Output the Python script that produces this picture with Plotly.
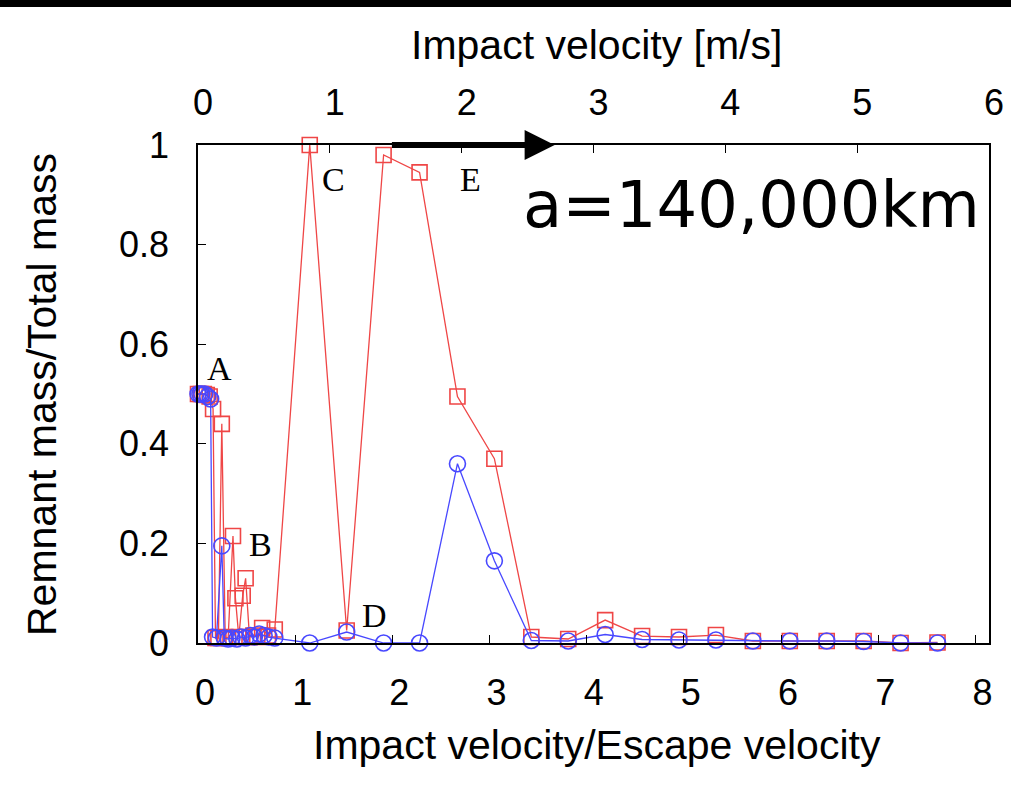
import plotly.graph_objects as go

# ---- data ----
red_x = [0.00, 0.03, 0.06, 0.09, 0.12, 0.155, 0.18, 0.21, 0.245, 0.28, 0.31, 0.36, 0.385,
         0.42, 0.46, 0.49, 0.53, 0.57, 0.61, 0.66, 0.72, 0.79,
         1.15, 1.53, 1.91, 2.28, 2.67, 3.05, 3.43, 3.81, 4.19, 4.57, 4.95, 5.33,
         5.71, 6.09, 6.47, 6.85, 7.23, 7.61]
red_y = [0.50, 0.50, 0.50, 0.498, 0.495, 0.47, 0.01, 0.01, 0.44, 0.012, 0.01, 0.215, 0.09,
         0.012, 0.095, 0.13, 0.012, 0.015, 0.012, 0.03, 0.015, 0.027,
         1.00, 0.025, 0.98, 0.945, 0.495, 0.37, 0.012, 0.008, 0.046, 0.014, 0.012, 0.016,
         0.004, 0.004, 0.004, 0.004, 0.0, 0.001]

blue_x = [0.00, 0.02, 0.04, 0.07, 0.10, 0.13, 0.15, 0.19, 0.245, 0.27, 0.31, 0.35, 0.40,
          0.44, 0.49, 0.54, 0.58, 0.63, 0.68, 0.73, 0.79,
          1.15, 1.53, 1.91, 2.28, 2.67, 3.05, 3.43, 3.81, 4.19, 4.57, 4.95, 5.33,
          5.71, 6.09, 6.47, 6.85, 7.23, 7.61]
blue_y = [0.50, 0.50, 0.50, 0.50, 0.495, 0.49, 0.012, 0.01, 0.195, 0.01, 0.008, 0.01, 0.008,
          0.012, 0.01, 0.015, 0.012, 0.018, 0.015, 0.012, 0.01,
          0.0, 0.022, 0.0, 0.0, 0.36, 0.165, 0.005, 0.004, 0.017, 0.007, 0.006, 0.006,
          0.004, 0.004, 0.004, 0.003, 0.0, 0.0]

bottom_ticks = [0, 1, 2, 3, 4, 5, 6, 7, 8]
top_ticks = [0, 1, 2, 3, 4, 5, 6]
y_ticks = [0, 0.2, 0.4, 0.6, 0.8, 1]
y_tick_text = ["0", "0.2", "0.4", "0.6", "0.8", "1"]

point_labels = ["A", "B", "C", "D", "E"]
label_x = [0.226, 0.64, 1.39, 1.82, 2.80]
label_y = [0.552, 0.197, 0.93, 0.056, 0.93]

x_title = "Impact velocity/Escape velocity"
x2_title = "Impact velocity [m/s]"
y_title = "Remnant mass/Total mass"
big_text = "a=140,000km"

# ---- layout geometry ----
W, H = 1011, 803
L, R, T, B = 198, 22, 145, 160
PW, PH = W - L - R, H - T - B

def px2paper_x(px):
    return (px - L) / PW

def px2paper_y(py):
    return (H - B - py) / PH

RED = "#ef4646"
BLUE = "#4848ff"
FONT = "Liberation Sans, Arial, sans-serif"

fig = go.Figure()
fig.add_trace(go.Scatter(
    x=red_x, y=red_y, mode="lines+markers",
    line=dict(color=RED, width=1.3),
    marker=dict(symbol="square-open", size=15, color=RED, line=dict(width=1.6, color=RED)),
    cliponaxis=False, showlegend=False, hoverinfo="skip"))
fig.add_trace(go.Scatter(
    x=blue_x, y=blue_y, mode="lines+markers",
    line=dict(color=BLUE, width=1.3),
    marker=dict(symbol="circle-open", size=16, color=BLUE, line=dict(width=1.6, color=BLUE)),
    cliponaxis=False, showlegend=False, hoverinfo="skip"))
# dummy trace to activate the top axis
fig.add_trace(go.Scatter(x=[None], y=[None], xaxis="x2", yaxis="y",
                         showlegend=False, hoverinfo="skip"))

axis_common = dict(showgrid=False, zeroline=False, showline=True, linecolor="black",
                   linewidth=1.5, ticks="inside", ticklen=8, tickwidth=1.2,
                   tickcolor="black", tickfont=dict(family=FONT, size=36, color="black"))

fig.update_layout(
    width=W, height=H,
    margin=dict(l=L, r=R, t=T, b=B, autoexpand=False),
    paper_bgcolor="white", plot_bgcolor="white",
    xaxis=dict(range=[0, 8.14], tickvals=bottom_ticks, mirror=False,
               ticklabelstandoff=17, ticklabelshift=7, **axis_common),
    xaxis2=dict(range=[0, 6], tickvals=top_ticks, overlaying="x", side="top",
                anchor="y", ticklabelstandoff=14, ticklabelshift=5, **axis_common),
    yaxis=dict(range=[0, 1], tickvals=y_ticks, ticktext=y_tick_text, mirror=True,
               ticklabelstandoff=20, **axis_common),
)

annotations = []
for t, lx, ly in zip(point_labels, label_x, label_y):
    annotations.append(dict(x=lx, y=ly, xref="x", yref="y", text=t, showarrow=False,
                            xanchor="center", yanchor="middle",
                            font=dict(family="Liberation Serif, Times New Roman, serif",
                                      size=34, color="black")))

def text_at(px, py, text, size, family=FONT, angle=0):
    return dict(x=px2paper_x(px), y=px2paper_y(py), xref="paper", yref="paper",
                text=text, showarrow=False, xanchor="center", yanchor="middle",
                textangle=angle, font=dict(family=family, size=size, color="black"))

annotations.append(text_at(597, 745, x_title, 41))
annotations.append(text_at(596, 45, x2_title, 41))
annotations.append(text_at(42, 395, y_title, 41, angle=-90))
annotations.append(text_at(751, 205, big_text, 64, family="DejaVu Sans, sans-serif"))
# arrow along top axis
annotations.append(dict(x=3.67, y=1.0, ax=1.98, ay=1.0, xref="x", yref="y",
                        axref="x", ayref="y", text="", showarrow=True,
                        arrowhead=2, arrowsize=1.0, arrowwidth=6, arrowcolor="black"))
fig.update_layout(annotations=annotations)

# black bar at top of the image
fig.add_shape(type="rect", xref="paper", yref="paper",
              x0=px2paper_x(0), x1=px2paper_x(W), y0=px2paper_y(7), y1=px2paper_y(0),
              fillcolor="black", line=dict(width=0), layer="above")

fig.write_html("out.html", config={"displayModeBar": False},
               post_script="document.body.style.margin='0';")
